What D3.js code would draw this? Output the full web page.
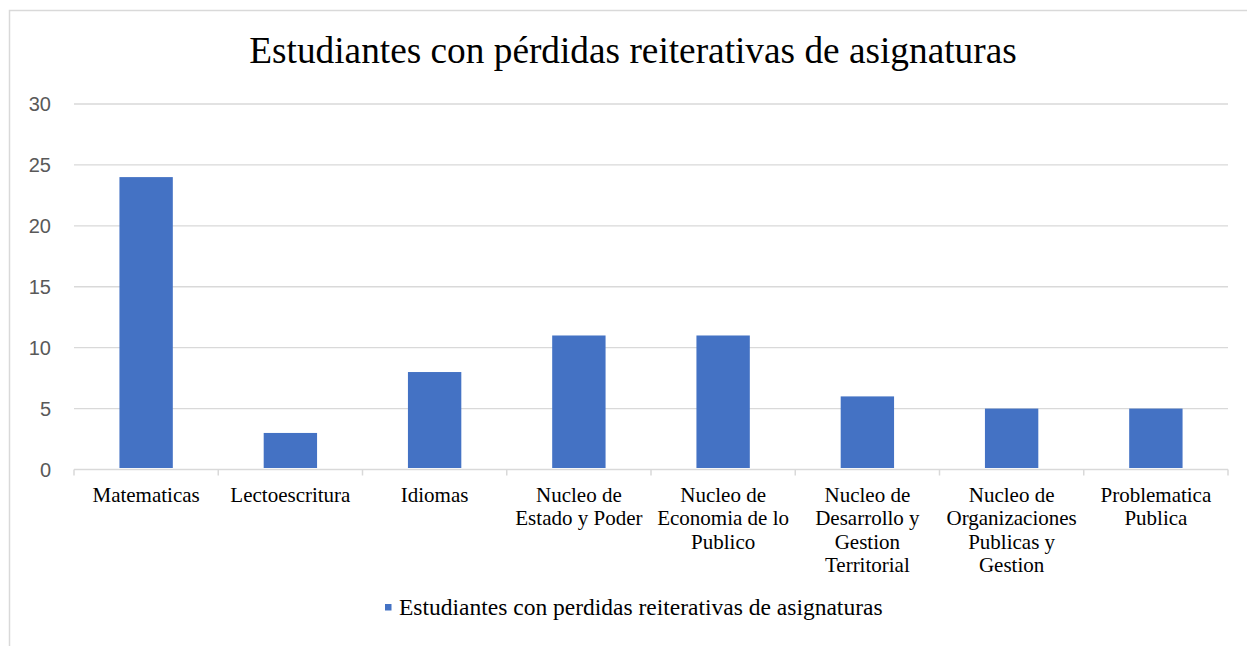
<!DOCTYPE html>
<html>
<head>
<meta charset="utf-8">
<script src="https://cdn.jsdelivr.net/npm/d3@7"></script>
<style>
  body { margin: 0; background: #fff; }
  svg { display: block; }
</style>
</head>
<body>
<div id="chart"></div>
<script>
// chart values
const categories = [
  ['Matematicas'],
  ['Lectoescritura'],
  ['Idiomas'],
  ['Nucleo de', 'Estado y Poder'],
  ['Nucleo de', 'Economia de lo', 'Publico'],
  ['Nucleo de', 'Desarrollo y', 'Gestion', 'Territorial'],
  ['Nucleo de', 'Organizaciones', 'Publicas y', 'Gestion'],
  ['Problematica', 'Publica']
];
const values = [24, 3, 8, 11, 11, 6, 5, 5];
const yTicks = [0, 5, 10, 15, 20, 25, 30];
const title = 'Estudiantes con pérdidas reiterativas de asignaturas';
const seriesName = 'Estudiantes con perdidas reiterativas de asignaturas';

const W = 1247, H = 646;
const plotLeft = 74, plotRight = 1228, plotTop = 104, plotBottom = 469.5;

const svg = d3.select('#chart')
  .append('svg')
  .attr('width', W)
  .attr('height', H);

// chart area border
svg.append('rect')
  .attr('x', 9.5).attr('y', 10.5)
  .attr('width', W + 20).attr('height', H + 20)
  .attr('fill', '#fff')
  .attr('stroke', '#d9d9d9')
  .attr('stroke-width', 1.5);

const x = d3.scaleBand()
  .domain(d3.range(categories.length))
  .range([plotLeft, plotRight])
  .padding(0);

const y = d3.scaleLinear()
  .domain([0, 30])
  .range([plotBottom, plotTop]);

// gridlines
svg.append('g')
  .selectAll('line')
  .data(yTicks.filter(d => d > 0))
  .join('line')
  .attr('x1', plotLeft).attr('x2', plotRight)
  .attr('y1', d => y(d)).attr('y2', d => y(d))
  .attr('stroke', '#d9d9d9')
  .attr('stroke-width', 1.3);

// y labels
svg.append('g')
  .selectAll('text')
  .data(yTicks)
  .join('text')
  .attr('x', 51)
  .attr('y', d => y(d))
  .attr('dy', '0.35em')
  .attr('text-anchor', 'end')
  .attr('font-family', '"Liberation Sans", Arial, sans-serif')
  .attr('font-size', 20)
  .attr('fill', '#595959')
  .text(d => d);

// bars
const barW = x.bandwidth() * 0.37;
svg.append('g')
  .selectAll('rect')
  .data(values)
  .join('rect')
  .attr('x', (d, i) => x(i) + (x.bandwidth() - barW) / 2)
  .attr('y', d => y(d))
  .attr('width', barW)
  .attr('height', d => y(0) - y(d) - 1.5)
  .attr('fill', '#4472c4');

// x axis line and tick marks
const xAxis = svg.append('g').attr('stroke', '#d9d9d9').attr('stroke-width', 1.5);
xAxis.append('line')
  .attr('x1', plotLeft).attr('x2', plotRight)
  .attr('y1', plotBottom).attr('y2', plotBottom);
xAxis.selectAll('line.tick')
  .data(d3.range(categories.length + 1))
  .join('line')
  .attr('class', 'tick')
  .attr('x1', i => plotLeft + i * x.step()).attr('x2', i => plotLeft + i * x.step())
  .attr('y1', plotBottom).attr('y2', plotBottom + 6);

// category labels
const labels = svg.append('g')
  .attr('font-family', '"Liberation Serif", "Times New Roman", serif')
  .attr('font-size', 21)
  .attr('fill', '#000')
  .attr('text-anchor', 'middle');
labels.selectAll('text')
  .data(categories)
  .join('text')
  .attr('x', (d, i) => x(i) + x.bandwidth() / 2)
  .attr('y', 502)
  .selectAll('tspan')
  .data(d => d)
  .join('tspan')
  .attr('x', function () { return d3.select(this.parentNode).attr('x'); })
  .attr('dy', (d, i) => i === 0 ? 0 : 23.3)
  .text(d => d);

// title
svg.append('text')
  .attr('x', 633)
  .attr('y', 63)
  .attr('text-anchor', 'middle')
  .attr('font-family', '"Liberation Serif", "Times New Roman", serif')
  .attr('font-size', 37.3)
  .attr('fill', '#000')
  .text(title);

// legend
const legend = svg.append('g');
legend.append('rect')
  .attr('x', 385).attr('y', 604)
  .attr('width', 6.5).attr('height', 6.5)
  .attr('fill', '#4472c4');
legend.append('text')
  .attr('x', 399)
  .attr('y', 615)
  .attr('font-family', '"Liberation Serif", "Times New Roman", serif')
  .attr('font-size', 23.5)
  .attr('fill', '#000')
  .text(seriesName);
</script>
</body>
</html>
